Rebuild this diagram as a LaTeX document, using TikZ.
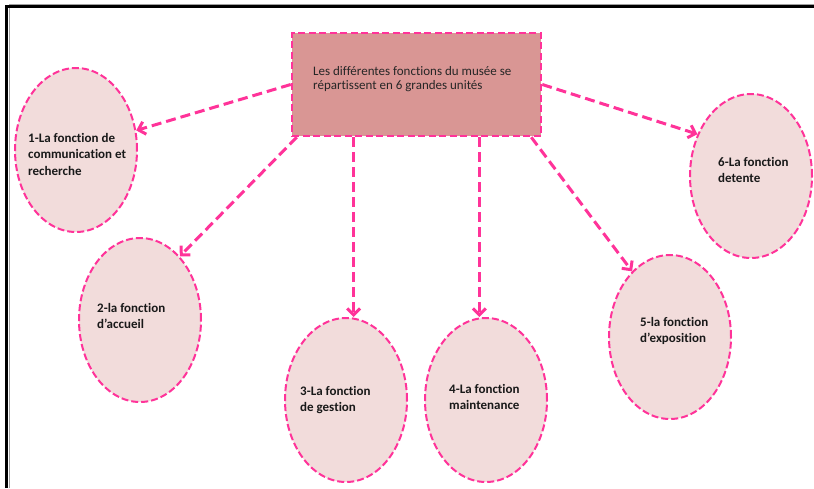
\documentclass[tikz,border=0pt]{standalone}
\usepackage{fontspec}
\setmainfont{Carlito}[Ligatures={NoCommon}]
\usetikzlibrary{shapes.geometric,arrows.meta,calc}
\definecolor{pinkline}{HTML}{FF3399}
\definecolor{ellfill}{HTML}{F2DCDB}
\definecolor{boxfill}{HTML}{D99694}
\definecolor{framegray}{HTML}{A0A0A0}
\begin{document}
\begin{tikzpicture}[x=1pt,y=-1pt,
  fn/.style={ellipse, draw=pinkline, fill=ellfill, line width=2pt,
    dash pattern=on 7pt off 3pt, minimum width=122pt, minimum height=164pt, inner sep=0pt},
  hub/.style={rectangle, draw=pinkline, fill=boxfill, line width=2.5pt,
    dash pattern=on 7pt off 3.5pt, minimum width=249pt, minimum height=103pt, inner sep=0pt},
  lbl/.style={anchor=base west, inner sep=0pt,
    font=\fontsize{13}{16.5}\selectfont\bfseries, text=black!90},
  hubtext/.style={anchor=base west, inner sep=0pt,
    font=\fontsize{13}{14.5}\selectfont, text=black!85},
  link/.style={draw=pinkline, line width=3pt, dash pattern=on 10pt off 5pt,
    -{Straight Barb[length=6.5pt,width=13pt]}},
  framebar/.style={line width=3.5pt, black},
  frameshade/.style={line width=1pt, framegray}]
\useasboundingbox (0,0) rectangle (814,488);
% frame
\draw[frameshade] (9,488) -- (9,4) -- (814,4);
\draw[framebar] (6.5,488) -- (6.5,6.5) -- (814,6.5);
% hub
\node[hub] (hub) at (416.5,84.5) {};
\node[hubtext] (t0) at (313,75) {\begin{tabular}[t]{@{}l@{}}Les différentes fonctions du musée se\\répartissent en 6 grandes unités\end{tabular}};
% function ellipses
\node[fn] (e1) at (76,150) {};
\node[fn] (e2) at (140,320) {};
\node[fn] (e3) at (346,400) {};
\node[fn] (e4) at (486,400) {};
\node[fn] (e5) at (670,337) {};
\node[fn] (e6) at (751,176) {};
% labels
\node[lbl] (t1) at (28,142) {\begin{tabular}[t]{@{}l@{}}1-La fonction de\\communication et\\recherche\end{tabular}};
\node[lbl] (t2) at (97,312) {\begin{tabular}[t]{@{}l@{}}2-la fonction\\d’accueil\end{tabular}};
\node[lbl] (t3) at (300,395) {\begin{tabular}[t]{@{}l@{}}3-La fonction\\de gestion\end{tabular}};
\node[lbl] (t4) at (449,393) {\begin{tabular}[t]{@{}l@{}}4-La fonction\\maintenance\end{tabular}};
\node[lbl] (t5) at (640,326) {\begin{tabular}[t]{@{}l@{}}5-la fonction\\d’exposition\end{tabular}};
\node[lbl] (t6) at (718,166) {\begin{tabular}[t]{@{}l@{}}6-La fonction\\detente\end{tabular}};
% connectors
\coordinate (s2) at ($(hub.south west)+(6,0)$);
\coordinate (s3) at ($(hub.south west)!0.25!(hub.south east)$);
\coordinate (s4) at ($(hub.south west)!0.75!(hub.south east)$);
\coordinate (s5) at ($(hub.south east)+(-11,0)$);
\draw[link] (hub.west) -- (e1.18);
\draw[link] (s2) -- (e2.58);
\draw[link] (s3) -- (s3 |- e3.north);
\draw[link] (s4) -- (s4 |- e4.north);
\draw[link] (s5) -- (e5.120);
\draw[link] (hub.east) -- (e6.142);
\end{tikzpicture}
\end{document}
